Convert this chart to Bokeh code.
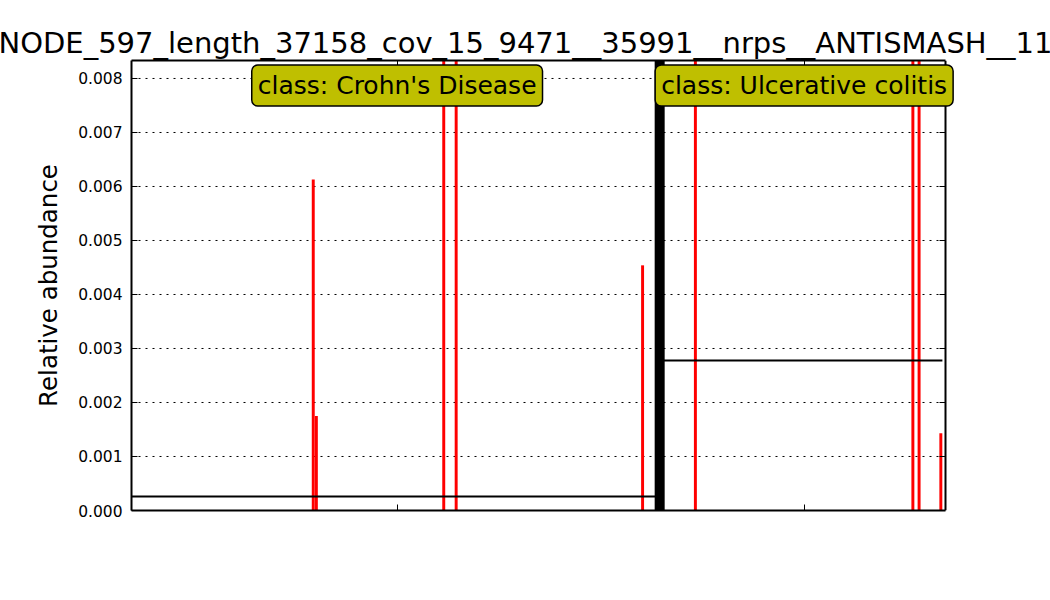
from bokeh.plotting import figure
from bokeh.models import (Range1d, FixedTicker, NumeralTickFormatter, LinearAxis, Label, Span,
                          CustomJSTickFormatter)
from bokeh.embed import file_html
from bokeh.resources import INLINE

# ---- data ----
title_text = "NODE_597_length_37158_cov_15_9471__35991__nrps__ANTISMASH__11"
y_label = "Relative abundance"
classes = ["Crohn's Disease", "Ulcerative colitis"]
n_cd = 170          # Crohn's Disease samples (positions 0..169)
n_uc = 91           # Ulcerative colitis samples (positions 171..261)
sep_pos = 170       # separator slot between classes
# non-zero samples (position, relative abundance)
cd_pos = [58, 59, 100, 104, 164]
cd_val = [0.00613, 0.00175, 0.0172, 0.0146, 0.00454]
uc_pos = [181, 251, 253, 260]
uc_val = [0.0950, 0.0712, 0.0853, 0.00143]
y_ticks = [0.000, 0.001, 0.002, 0.003, 0.004, 0.005, 0.006, 0.007, 0.008]

cd_mean = sum(cd_val) / n_cd
uc_mean = sum(uc_val) / n_uc
cd_center = (0 + sep_pos) / 2
uc_center = (sep_pos + 1 + sep_pos + n_uc) / 2

FONT = "DejaVu Sans"
W, H = 1050, 600
FL, FR, FT, FB = 131, 85, 60, 90
x0 = -0.5
xr = sep_pos + n_uc + 0.5            # right edge of the axes box
axes_px = 814                          # axes box width in pixels
extra_px = (W - FL - FR) - axes_px     # room to the right of the box for overhanging label
x1 = xr + extra_px * (xr - x0) / axes_px
y0, y1 = 0, 0.008333
cd_span = (x0, sep_pos)
uc_span = (sep_pos, uc_pos[-1] + 0.5)

p = figure(width=W, height=H, output_backend="svg", toolbar_location=None,
           x_range=Range1d(x0, x1), y_range=Range1d(y0, y1),
           min_border_left=FL, min_border_right=FR, min_border_top=FT, min_border_bottom=FB)
p.background_fill_color = "white"
p.border_fill_color = "white"
p.outline_line_color = None

# title
p.title.text = title_text
p.title.text_font = FONT
p.title.text_font_size = "29px"
p.title.text_font_style = "normal"
p.title.text_color = "black"
p.title.align = "left"
p.title.offset = -133
p.title.standoff = 2

# grid (dotted, across the axes box only)
p.xgrid.grid_line_color = None
p.ygrid.grid_line_color = None
gy = y_ticks[1:]
p.segment(x0=[x0] * len(gy), x1=[xr] * len(gy), y0=gy, y1=gy,
          line_color="black", line_width=1, line_dash="2 5")

# axes
blank = CustomJSTickFormatter(code="return ''")
xticker = FixedTicker(ticks=[cd_center, uc_center])
yticker = FixedTicker(ticks=y_ticks)
for ax in p.xaxis:
    ax.ticker = xticker
    ax.formatter = blank
    ax.major_label_standoff = 0
    ax.bounds = (x0, xr)
for ax in p.yaxis:
    ax.ticker = yticker
    ax.formatter = NumeralTickFormatter(format="0.000")
    ax.major_label_text_font = FONT
    ax.major_label_text_font_size = "15.5px"
    ax.major_label_text_color = "black"
    ax.major_label_standoff = 9
    ax.axis_label = y_label
    ax.axis_label_text_font = FONT
    ax.axis_label_text_font_size = "24.5px"
    ax.axis_label_text_font_style = "normal"
    ax.axis_label_text_color = "black"
    ax.axis_label_standoff = 12

top = LinearAxis(ticker=xticker, formatter=blank, major_label_standoff=0, bounds=(x0, xr))
right = LinearAxis(ticker=yticker, formatter=blank, major_label_standoff=0, fixed_location=xr)
p.add_layout(top, "above")
p.add_layout(right, "right")

for ax in list(p.xaxis) + list(p.yaxis) + [top, right]:
    ax.axis_line_color = "black"
    ax.axis_line_width = 2
    ax.major_tick_in = 6
    ax.major_tick_out = 0
    ax.major_tick_line_color = "black"
    ax.major_tick_line_width = 1
    ax.minor_tick_line_color = None

# bars
p.vbar(x=cd_pos, top=cd_val, bottom=0, width=0.95, color="#ff0000", line_color=None)
p.vbar(x=uc_pos, top=uc_val, bottom=0, width=0.95, color="#ff0000", line_color=None)

# class means
p.segment(x0=[cd_span[0], uc_span[0]], x1=[cd_span[1], uc_span[1]],
          y0=[cd_mean, uc_mean], y1=[cd_mean, uc_mean], line_color="black", line_width=2)

# separator
p.add_layout(Span(location=sep_pos - 0.5, dimension="height", line_color="black", line_width=10))

# class labels
label_y = 0.00787
for cx, cname in zip([cd_center, uc_center], classes):
    p.add_layout(Label(x=cx, y=label_y, text="class: " + cname, text_align="center",
                       text_baseline="middle", text_font=FONT, text_font_size="25px",
                       text_color="black", background_fill_color="#bfbf00",
                       border_line_color="black", border_line_width=1.5,
                       padding=6, border_radius=6))

open("out.html", "w").write(file_html(p, INLINE))
